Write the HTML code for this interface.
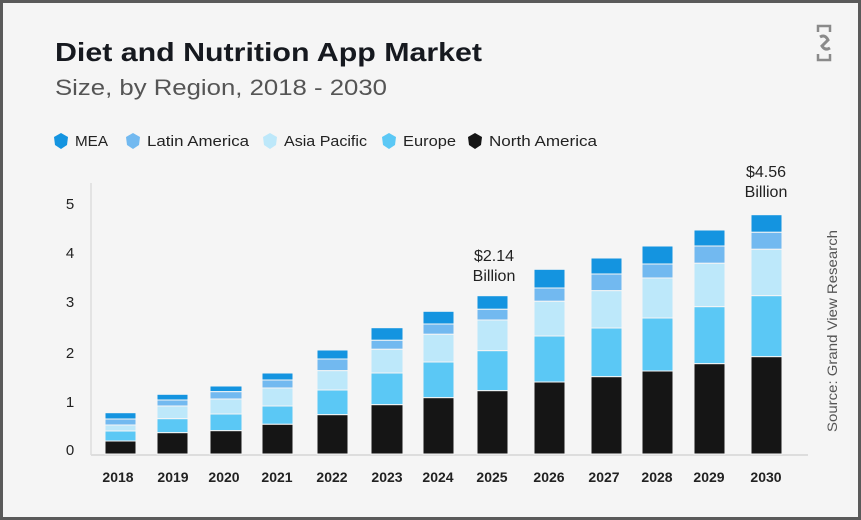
<!DOCTYPE html>
<html><head><meta charset="utf-8"><style>
html,body{margin:0;padding:0;background:#fff}
svg{display:block;font-family:"Liberation Sans",sans-serif}
</style></head><body>
<svg width="861" height="520" viewBox="0 0 861 520" xmlns="http://www.w3.org/2000/svg">
<rect x="1.5" y="1.5" width="858" height="517" fill="#f5f5f5" stroke="#5a5a5a" stroke-width="3"/>
<text x="55" y="61" font-size="26" font-weight="bold" fill="#16191f" textLength="427" lengthAdjust="spacingAndGlyphs">Diet and Nutrition App Market</text>
<text x="55" y="95" font-size="22" fill="#555" textLength="332" lengthAdjust="spacingAndGlyphs">Size, by Region, 2018 - 2030</text>
<g stroke="#8a8a8a" stroke-width="2.5" fill="none"><path d="M818 32 v-6 h12 v6 M818 54 v6 h12 v-6"/><path d="M820 37 q5 -3 8 3 l-6 6 q3 5 8 2" stroke-width="3"/></g>
<g font-size="15" fill="#222">
<path d="M54 137 l7 -4 l7 4 l-1 8 l-6 4 l-6 -4 z" fill="#1494e0"/><text x="75" y="146" textLength="33" lengthAdjust="spacingAndGlyphs">MEA</text>
<path d="M126 137 l7 -4 l7 4 l-1 8 l-6 4 l-6 -4 z" fill="#72b9f0"/><text x="147" y="146" textLength="102" lengthAdjust="spacingAndGlyphs">Latin America</text>
<path d="M263 137 l7 -4 l7 4 l-1 8 l-6 4 l-6 -4 z" fill="#bde8fa"/><text x="284" y="146" textLength="83" lengthAdjust="spacingAndGlyphs">Asia Pacific</text>
<path d="M382 137 l7 -4 l7 4 l-1 8 l-6 4 l-6 -4 z" fill="#5bc8f5"/><text x="403" y="146" textLength="53" lengthAdjust="spacingAndGlyphs">Europe</text>
<path d="M468 137 l7 -4 l7 4 l-1 8 l-6 4 l-6 -4 z" fill="#151515"/><text x="489" y="146" textLength="108" lengthAdjust="spacingAndGlyphs">North America</text>
</g>
<line x1="91" y1="183" x2="91" y2="455" stroke="#ddd" stroke-width="1.5"/>
<line x1="91" y1="455" x2="808" y2="455" stroke="#ddd" stroke-width="2"/>
<g font-size="15" fill="#222" text-anchor="middle">
<text x="70" y="209">5</text><text x="70" y="258">4</text><text x="70" y="307">3</text><text x="70" y="358">2</text><text x="70" y="407">1</text><text x="70" y="455">0</text>
</g>
<g font-size="14" fill="#222" text-anchor="middle" font-weight="bold" style="font-weight:600">
<text x="118" y="482">2018</text><text x="173" y="482">2019</text><text x="224" y="482">2020</text><text x="277" y="482">2021</text><text x="332" y="482">2022</text><text x="387" y="482">2023</text><text x="438" y="482">2024</text><text x="492" y="482">2025</text><text x="549" y="482">2026</text><text x="604" y="482">2027</text><text x="657" y="482">2028</text><text x="709" y="482">2029</text><text x="766" y="482">2030</text>
</g>
<g stroke="#f5f5f5" stroke-width="1">
<g transform="translate(105,0)"><rect width="31" y="412.7" height="6.3" fill="#1494e0"/><rect width="31" y="419" height="6" fill="#72b9f0"/><rect width="31" y="425" height="6" fill="#bde8fa"/><rect width="31" y="431" height="10" fill="#5bc8f5"/><rect width="31" y="441" height="13" fill="#151515"/></g>
<g transform="translate(157,0)"><rect width="31" y="394.3" height="5.7" fill="#1494e0"/><rect width="31" y="400" height="6" fill="#72b9f0"/><rect width="31" y="406" height="12.7" fill="#bde8fa"/><rect width="31" y="418.7" height="14" fill="#5bc8f5"/><rect width="31" y="432.7" height="21.3" fill="#151515"/></g>
<g transform="translate(210,0)"><rect width="32" y="386" height="5.7" fill="#1494e0"/><rect width="32" y="391.7" height="7.3" fill="#72b9f0"/><rect width="32" y="399" height="15" fill="#bde8fa"/><rect width="32" y="414" height="16.7" fill="#5bc8f5"/><rect width="32" y="430.7" height="23.3" fill="#151515"/></g>
<g transform="translate(262,0)"><rect width="31" y="373" height="7" fill="#1494e0"/><rect width="31" y="380" height="8" fill="#72b9f0"/><rect width="31" y="388" height="18" fill="#bde8fa"/><rect width="31" y="406" height="18.3" fill="#5bc8f5"/><rect width="31" y="424.3" height="29.7" fill="#151515"/></g>
<g transform="translate(317,0)"><rect width="31" y="350" height="9" fill="#1494e0"/><rect width="31" y="359" height="11.7" fill="#72b9f0"/><rect width="31" y="370.7" height="19.3" fill="#bde8fa"/><rect width="31" y="390" height="24.7" fill="#5bc8f5"/><rect width="31" y="414.7" height="39.3" fill="#151515"/></g>
<g transform="translate(371,0)"><rect width="32" y="327.7" height="12.6" fill="#1494e0"/><rect width="32" y="340.3" height="9" fill="#72b9f0"/><rect width="32" y="349.3" height="23.7" fill="#bde8fa"/><rect width="32" y="373" height="31.7" fill="#5bc8f5"/><rect width="32" y="404.7" height="49.3" fill="#151515"/></g>
<g transform="translate(423,0)"><rect width="31" y="311.3" height="12.7" fill="#1494e0"/><rect width="31" y="324" height="10.3" fill="#72b9f0"/><rect width="31" y="334.3" height="27.7" fill="#bde8fa"/><rect width="31" y="362" height="35.7" fill="#5bc8f5"/><rect width="31" y="397.7" height="56.3" fill="#151515"/></g>
<g transform="translate(477,0)"><rect width="31" y="295.7" height="13.6" fill="#1494e0"/><rect width="31" y="309.3" height="10.7" fill="#72b9f0"/><rect width="31" y="320" height="30.7" fill="#bde8fa"/><rect width="31" y="350.7" height="40" fill="#5bc8f5"/><rect width="31" y="390.7" height="63.3" fill="#151515"/></g>
<g transform="translate(534,0)"><rect width="31" y="269.3" height="18.7" fill="#1494e0"/><rect width="31" y="288" height="13.3" fill="#72b9f0"/><rect width="31" y="301.3" height="34.7" fill="#bde8fa"/><rect width="31" y="336" height="46" fill="#5bc8f5"/><rect width="31" y="382" height="72" fill="#151515"/></g>
<g transform="translate(591,0)"><rect width="31" y="258" height="16" fill="#1494e0"/><rect width="31" y="274" height="16.7" fill="#72b9f0"/><rect width="31" y="290.7" height="37.3" fill="#bde8fa"/><rect width="31" y="328" height="48.7" fill="#5bc8f5"/><rect width="31" y="376.7" height="77.3" fill="#151515"/></g>
<g transform="translate(642,0)"><rect width="31" y="246" height="18" fill="#1494e0"/><rect width="31" y="264" height="14" fill="#72b9f0"/><rect width="31" y="278" height="40" fill="#bde8fa"/><rect width="31" y="318" height="53" fill="#5bc8f5"/><rect width="31" y="371" height="83" fill="#151515"/></g>
<g transform="translate(694,0)"><rect width="31" y="230" height="16" fill="#1494e0"/><rect width="31" y="246" height="17.3" fill="#72b9f0"/><rect width="31" y="263.3" height="43.4" fill="#bde8fa"/><rect width="31" y="306.7" height="57" fill="#5bc8f5"/><rect width="31" y="363.7" height="90.3" fill="#151515"/></g>
<g transform="translate(751,0)"><rect width="31" y="214.7" height="17.6" fill="#1494e0"/><rect width="31" y="232.3" height="17" fill="#72b9f0"/><rect width="31" y="249.3" height="46.4" fill="#bde8fa"/><rect width="31" y="295.7" height="61" fill="#5bc8f5"/><rect width="31" y="356.7" height="97.3" fill="#151515"/></g>
</g>
<g font-size="16" fill="#222" text-anchor="middle">
<text x="494" y="261">$2.14</text><text x="494" y="281">Billion</text>
<text x="766" y="177">$4.56</text><text x="766" y="197">Billion</text>
</g>
<text transform="translate(837,331) rotate(-90)" font-size="14" fill="#555" text-anchor="middle" textLength="202" lengthAdjust="spacingAndGlyphs">Source: Grand View Research</text>
</svg>
</body></html>
